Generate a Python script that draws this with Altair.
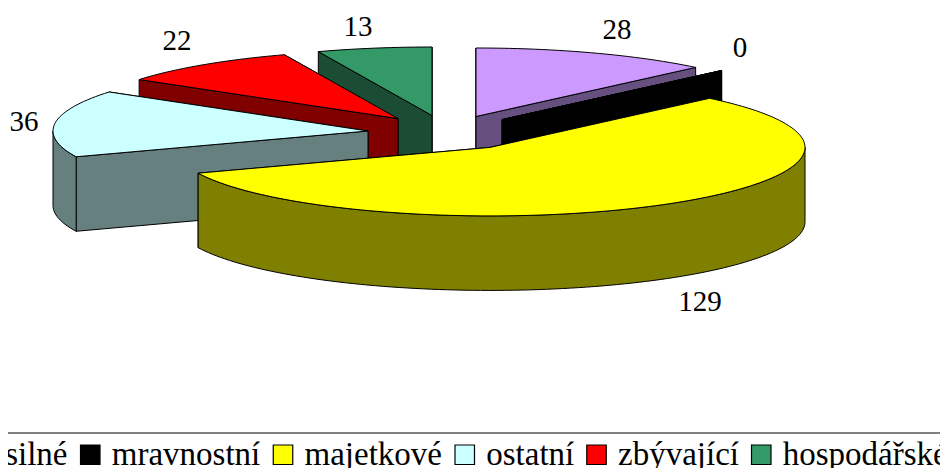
import math
import altair as alt

CATEGORIES = ["násilné", "mravnostní", "majetkové", "ostatní", "zbývající", "hospodářské"]
VALUES = [28, 0, 129, 36, 21.6, 13.4]
TOP_COLORS = ["#CC99FF", "#000000", "#FFFF00", "#CCFFFF", "#FF0000", "#339966"]
SIDE_COLORS = ["#665080", "#000000", "#808000", "#668080", "#800000", "#1A4D33"]

# layout, in page pixels
RX, RY, DEPTH = 315, 68.5, 74.5
APEX = [(476, 116.5), (502, 119.6), (490, 147.4), (368, 131), (398, 118.6), (432, 115.5)]
LABEL_POS = [(617, 30), (740, 48), (700, 302), (24, 122), (177, 41), (358, 27)]
DRAW_ORDER = [0, 1, 5, 4, 3, 2]
W, H = 932, 460


def rim(c, a0, a1):
    n = max(1, int(abs(a1 - a0) / 1.5))
    pts = []
    for k in range(n + 1):
        t = math.radians(a0 + (a1 - a0) * k / n)
        pts.append((c[0] + RX * math.sin(t), c[1] - RY * math.cos(t)))
    return pts


def down(pts):
    return [(x, y + DEPTH) for x, y in pts]


def feature(pts, series):
    ring = [list(p) for p in pts] + [list(pts[0])]
    return {
        "type": "Feature",
        "properties": {"series": series},
        "geometry": {"type": "Polygon", "coordinates": [ring]},
    }


angles, acc = [], 0.0
total = sum(VALUES)
for v in VALUES:
    angles.append((acc, acc + v / total * 360))
    acc += v / total * 360

features = []
for i in DRAW_ORDER:
    a0, a1 = angles[i]
    c = APEX[i]
    top = rim(c, a0, a1)
    side = CATEGORIES[i] + " bok"
    edges = sorted([top[0], top[-1]], key=lambda p: p[1])
    for p in edges:
        features.append(feature([c, p, (p[0], p[1] + DEPTH), (c[0], c[1] + DEPTH)], side))
    lo, hi = max(a0, 90), min(a1, 270)
    if hi > lo:
        front = rim(c, lo, hi)
        features.append(feature(front + down(front)[::-1], side))
    features.append(feature([c] + top, CATEGORIES[i]))

pie = (
    alt.Chart(alt.Data(values=features))
    .mark_geoshape(stroke="black", strokeWidth=1, strokeJoin="miter")
    .encode(
        color=alt.Color(
            "properties.series:N",
            scale=alt.Scale(
                domain=CATEGORIES + [c + " bok" for c in CATEGORIES],
                range=TOP_COLORS + SIDE_COLORS,
            ),
            legend=alt.Legend(
                values=CATEGORIES,
                title=None,
                orient="none",
                direction="horizontal",
                columns=6,
                legendX=-72,
                legendY=430,
                symbolType="square",
                symbolSize=380,
                symbolStrokeColor="black",
                symbolStrokeWidth=1.2,
                labelFont="Liberation Serif",
                labelFontSize=33,
                labelColor="black",
                labelOffset=5,
                labelLimit=400,
                columnPadding=5.75,
                padding=0,
            ),
        )
    )
    .project(type="identity", scale=1, translate=[-8, -8])
)

labels = [
    {"value": v, "x": p[0], "y": p[1]} for v, p in zip(VALUES, LABEL_POS)
]
text = (
    alt.Chart(alt.Data(values=labels))
    .mark_text(font="Liberation Serif", fontSize=29, color="black", align="center", baseline="middle")
    .encode(
        x=alt.X("x:Q", axis=None, scale=alt.Scale(domain=[8, 8 + W], range=[0, W])),
        y=alt.Y("y:Q", axis=None, scale=alt.Scale(domain=[8, 8 + H], range=[0, H])),
        text=alt.Text("value:Q", format=".0f"),
    )
)

line = (
    alt.Chart(alt.Data(values=[{"a": 0}]))
    .mark_rule(color="black", strokeWidth=1)
    .encode(x=alt.value(0), x2=alt.value(W), y=alt.value(425))
)

chart = (
    alt.layer(pie, text, line)
    .resolve_scale(x="independent", y="independent")
    .properties(width=W, height=H, padding=0, autosize=alt.AutoSizeParams(type="none"))
    .configure_view(stroke=None)
)

chart.save("out.html", embed_options={"renderer": "svg", "actions": False})
